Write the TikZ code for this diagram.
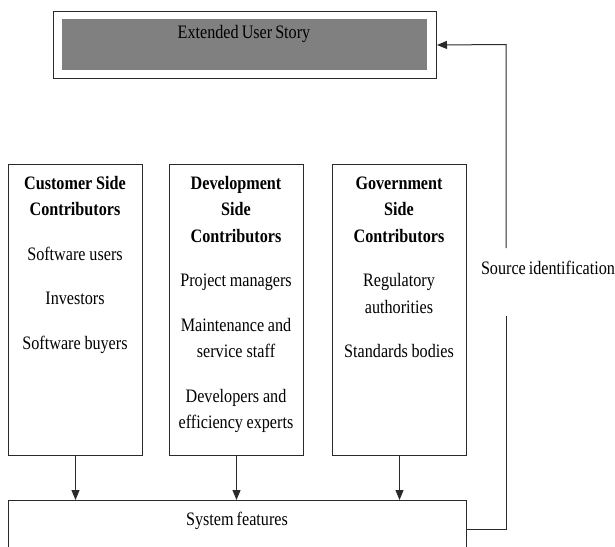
\documentclass[tikz,border=0pt]{standalone}
\usepackage{fontspec}
\setmainfont{Liberation Serif}[FakeStretch=0.85,WordSpace=0.75]
\usetikzlibrary{arrows.meta}
\definecolor{linegray}{HTML}{2A2A2A}
\definecolor{fillgray}{HTML}{808080}
\begin{document}
\begin{tikzpicture}[x=1pt,y=-1pt,
  box/.style={draw=linegray, line width=1pt, inner sep=0pt, anchor=north west},
  txt/.style={font=\fontsize{19}{26.5}\selectfont, align=center, text width=134pt, inner sep=0pt, anchor=base,
    execute at begin node={\spaceskip=0.18em plus 0.05em\relax}},
  lbl/.style={font=\fontsize{19}{26.5}\selectfont, inner sep=0pt, anchor=base},
  conn/.style={draw=linegray, line width=1pt},
  arr/.style={conn, -{Triangle[width=8pt,length=10pt]}}]
\useasboundingbox (0,0) rectangle (615,546);
% top box
\node[box, minimum width=383pt, minimum height=67pt] (eus) at (53,11) {};
\node[fill=fillgray, draw=none, inner sep=0pt, anchor=north west, minimum width=365pt, minimum height=51pt] (eusin) at (62,19) {};
\node[lbl] (eust) at (244,38) {Extended User Story};
% columns
\node[box, minimum width=134pt, minimum height=291pt] (cust) at (8,164) {};
\node[box, minimum width=134pt, minimum height=291pt] (dev) at (169,164) {};
\node[box, minimum width=134pt, minimum height=291pt] (gov) at (332,164) {};
\node[txt] (custt) at (75,189) {\bfseries Customer Side\\Contributors\\[18pt]\mdseries Software users\\[18pt]Investors\\[18pt]Software buyers};
\node[txt] (devt) at (236,189) {\bfseries Development\\Side\\Contributors\\[18pt]\mdseries Project managers\\[18pt]Maintenance and\\service staff\\[18pt]Developers and\\efficiency experts};
\node[txt] (govt) at (399,189) {\bfseries Government\\Side\\Contributors\\[18pt]\mdseries Regulatory\\authorities\\[18pt]Standards bodies};
% system features
\node[box, minimum width=458pt, minimum height=60pt] (sf) at (8,500) {};
\node[lbl] (sft) at (237,525) {System features};
% arrows down
\draw[arr] (cust.south) -- (cust.south |- sf.north);
\draw[arr] (dev.south) -- (dev.south |- sf.north);
\draw[arr] (gov.south) -- (gov.south |- sf.north);
% feedback loop
\coordinate (c1) at (506,529);
\coordinate (g1) at (506,316);
\coordinate (g2) at (506,248);
\coordinate (c2) at (506,44.5);
\draw[conn] ([yshift=-29pt]sf.north east) -- (c1) -- (g1);
\draw[arr] (g2) -- (c2) -- (eus.east);
\node[lbl] (src) at (548,274) {Source identification};
\end{tikzpicture}
\end{document}
